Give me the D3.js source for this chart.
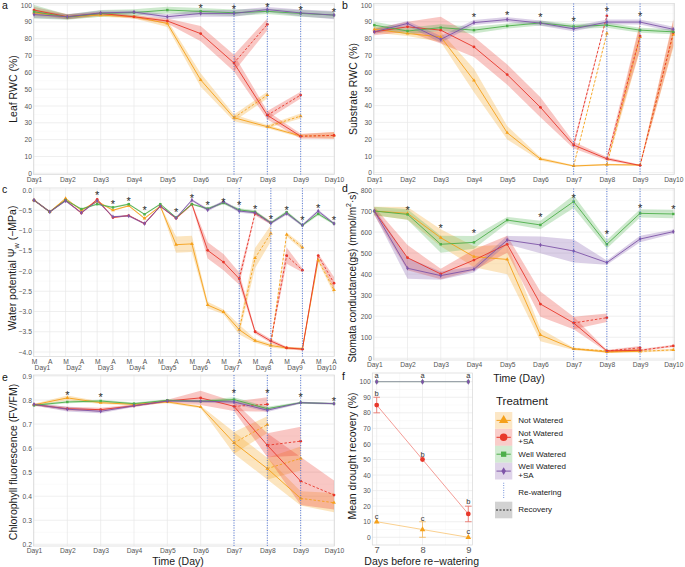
<!DOCTYPE html>
<html><head><meta charset="utf-8">
<script src="https://cdn.jsdelivr.net/npm/d3@7"></script>
<style>body{margin:0;background:#fff}svg{display:block}</style>
</head><body><svg id="c" width="685" height="567"></svg>
<script>
// ---------------- DATA ----------------
const days = ["Day1","Day2","Day3","Day4","Day5","Day6","Day7","Day8","Day9","Day10"];
const halfDayLabels = ["M","A"];
const treatmentLabels = [["Not Watered"],["Not Watered","+SA"],["Well Watered"],["Well Watered","+SA"]];
const extraLegend = ["Re-watering","Recovery"];

// Panel a: Leaf RWC (%)
const aNW   = [95.4, 93, 94, 93, 89, 55.5, 33, 27.7, 22.2];
const aNWse = [2, 1.5, 1, 1, 2, 4, 2, 1, 1];
const aNWSA   = [97, 93, 95, 93, 90.5, 83, 65.5, 34.5, 22];
const aNWSAse = [2, 1.5, 1, 1, 1.5, 4.5, 5, 2.5, 1.5];
const aWW   = [96, 92.8, 95, 95.5, 97, 96.2, 95.4, 96.2, 95, 94];
const aWWse = [4, 1.5, 2, 2, 2, 2, 2, 1.5, 2, 2];
const aWWSA   = [94.3, 93, 95.3, 95.8, 93, 95, 95, 97.3, 95.3, 94];
const aWWSAse = [2, 1.5, 1.5, 1, 1.5, 2, 2, 1.5, 2, 2.5];
const aRecStart = [6, 7, 8];
const aNWrec = [[46.5],[34],[22.5]];    const aNWrecSe = [[2],[1.5],[2]];
const aNWSArec = [[88.5],[46.5],[22.5]]; const aNWSArecSe = [[3.5],[2],[2]];
const aStarIdx = [5,6,7,8,9];
const aStarVal = [99.6, 99, 100.2, 98.4, 97.2];

// Panel b: Substrate RWC (%)
const bNW   = [85.5, 83, 81, 55, 23.8, 8.2, 4, 4.8, 4.6];
const bNWse = [2, 1.5, 3, 7, 4, 1, 0.5, 0.5, 0.5];
const bNWSA   = [84, 87, 85, 75, 58.5, 39, 16.5, 8.3, 4.3];
const bNWSAse = [2, 3, 8, 6, 6, 6, 2, 1, 0.5];
const bWW   = [88, 84.5, 86.5, 85, 87.5, 89.3, 87.2, 88, 85, 84];
const bWWse = [2, 2, 2, 2, 1.5, 1.5, 1.5, 1.5, 1.5, 1.5];
const bWWSA   = [84, 89, 79.5, 89.5, 91.3, 89.2, 85.8, 89.8, 89.8, 85.5];
const bWWSAse = [1.5, 1.5, 2, 1.5, 1.5, 1.5, 1.5, 1.5, 1.5, 1.5];
const bRecStart = [6, 7, 8];
const bNWrec = [[83],[81],[82.5]];      const bNWrecSe = [[0.5],[8],[8]];
const bNWSArec = [[93.5],[81.5],[83.5]]; const bNWSArecSe = [[0.5],[8],[8]];
const bStarIdx = [3,4,5,6,7,8];
const bStarVal = [94.2, 95.4, 94, 91.8, 97.5, 94.4];

// Panel c: Water potential (M/A for each day, 20 positions)
const cWW   = [-0.25,-0.54,-0.25,-0.47,-0.35,-0.43,-0.35,-0.6,-0.35,-0.68,-0.35,-0.46,-0.32,-0.49,-0.54,-0.81,-0.55,-0.87,-0.59,-0.83];
const cWWse = [0.02,0.02,0.02,0.02,0.02,0.02,0.02,0.02,0.02,0.02,0.02,0.03,0.03,0.04,0.04,0.03,0.04,0.03,0.04,0.03];
const cWWSA   = [-0.25,-0.54,-0.27,-0.56,-0.27,-0.66,-0.64,-0.83,-0.4,-0.69,-0.25,-0.49,-0.29,-0.52,-0.56,-0.82,-0.58,-0.87,-0.52,-0.83];
const cWWSAse = [0.02,0.02,0.02,0.02,0.02,0.02,0.02,0.02,0.02,0.02,0.03,0.04,0.03,0.04,0.04,0.03,0.04,0.03,0.04,0.03];
const cNW   = [-0.25,-0.54,-0.21,-0.5,-0.28,-0.5,-0.39,-0.7,-0.4,-1.35,-1.33,-2.84,-3.01,-3.45,-3.72,-3.84,-3.9,-3.92,-1.73];
const cNWse = [0.02,0.02,0.02,0.02,0.02,0.02,0.02,0.02,0.02,0.2,0.2,0.08,0.06,0.12,0.05,0.05,0.03,0.03,0.05];
const cNWSA   = [-0.25,-0.54,-0.25,-0.57,-0.23,-0.68,-0.63,-0.83,-0.4,-0.7,-0.35,-1.49,-1.78,-2.19,-3.5,-3.73,-3.9,-3.93,-1.62];
const cNWSAse = [0.02,0.02,0.02,0.02,0.02,0.02,0.02,0.02,0.02,0.02,0.03,0.2,0.2,0.15,0.05,0.05,0.03,0.03,0.05];
const cRecStart = [13, 15, 18];
const cNWrec = [[-1.68,-1.07],[-1.1,-1.42],[-2.47]];  const cNWrecSe = [[0.25,0.2],[0.05,0.07],[0.1]];
const cNWSArec = [[-0.58,-0.81],[-1.62,-1.98],[-2.3]]; const cNWSArecSe = [[0.05,0.04],[0.2,0.05],[0.15]];
const cStarIdx = [4,5,6,7,9,10,11,12,13,14,15,16,17,18,19];
const cStarVal = [-0.08,-0.29,-0.21,-0.44,-0.5,-0.14,-0.31,-0.25,-0.32,-0.41,-0.66,-0.44,-0.7,-0.39,-0.68];

// Panel d: Stomata conductance
const dNW   = [700, 689, 573, 483, 470, 111, 45, 30, 33];
const dNWse = [20, 30, 40, 50, 70, 30, 5, 5, 5];
const dNWSA   = [700, 478, 401, 467, 542, 258, 168, 35, 38];
const dNWSAse = [20, 60, 25, 50, 40, 60, 30, 5, 5];
const dWW   = [700, 684, 542, 551, 657, 634, 745, 542, 689, 686];
const dWWse = [20, 25, 40, 30, 15, 20, 30, 20, 20, 20];
const dWWSA   = [700, 428, 393, 423, 562, 539, 510, 455, 567, 602];
const dWWSAse = [15, 50, 20, 15, 20, 40, 55, 10, 15, 10];
const dRecStart = [6, 7, 8];
const dNWrec = [[35],[40],[40]];     const dNWrecSe = [[3],[5],[5]];
const dNWSArec = [[193],[50],[59]];  const dNWSArecSe = [[20],[8],[5]];
const dStarIdx = [1,2,3,5,6,7,8,9];
const dStarVal = [716, 629, 605, 681, 771, 599, 725, 721];

// Panel e: Chlorophyll fluorescence
const eNW   = [0.78, 0.809, 0.789, 0.782, 0.792, 0.771, 0.622, 0.515, 0.391];
const eNWse = [0.005, 0.01, 0.005, 0.005, 0.005, 0.005, 0.045, 0.045, 0.03];
const eNWSA   = [0.781, 0.764, 0.76, 0.776, 0.796, 0.809, 0.774, 0.612, 0.463];
const eNWSAse = [0.005, 0.008, 0.008, 0.005, 0.005, 0.03, 0.02, 0.05, 0.1];
const eWW   = [0.778, 0.792, 0.796, 0.785, 0.799, 0.795, 0.802, 0.764, 0.789, 0.785];
const eWWse = [0.005, 0.005, 0.005, 0.005, 0.004, 0.005, 0.01, 0.008, 0.004, 0.004];
const eWWSA   = [0.782, 0.762, 0.753, 0.776, 0.796, 0.795, 0.792, 0.758, 0.789, 0.785];
const eWWSAse = [0.005, 0.01, 0.008, 0.005, 0.004, 0.005, 0.008, 0.008, 0.004, 0.004];
const eRecStart = [6, 7, 8];
const eNWrec = [[0.698],[0.557],[0.373]];   const eNWrecSe = [[0.035],[0.05],[0.04]];
const eNWSArec = [[0.782],[0.629],[0.405]]; const eNWSArecSe = [[0.03],[0.06],[0.06]];
const eStarIdx = [1,2,6,7,8,9];
const eStarVal = [0.831, 0.823, 0.836, 0.836, 0.82, 0.806];

// Panel f: Mean drought recovery
const fDays = [7, 8, 9];
const fNW = [10, 5, 0];       const fNWerr = [0, 5, 0];
const fNWSA = [85, 50, 15];   const fNWSAerr = [5, 0, 5];
const fWW = [100, 100, 100];  const fWWSA = [100, 100, 100];
const fLetterA = [104, 104, 104];
const fLetterB = [92.5, 53.5, 22.9];
const fLetterC = [13.3, 12.2, 4];

// ---------------- STYLE ----------------
const FONT = "'Liberation Sans', Arial, Helvetica, sans-serif";
const colNW = "#F5A01A", colNWSA = "#E8372A", colWW = "#4DAF4A", colWWSA = "#7E55A8";
const colRewater = "#4a6fd8";
const TICK_FS = 6.7;
const gridMajor = "#e8e8e8", gridMinor = "#f4f4f4";
const svg = d3.select("#c").attr("font-family", FONT);
const symbolTypes = {tri: d3.symbolTriangle, cir: d3.symbolCircle, sq: d3.symbolSquare, dia: d3.symbolDiamond};
const sym = (shape, size) => d3.symbol().type(symbolTypes[shape]).size(size)();

function yAxis(g, y, L, ticks, fmt) {
  const a = g.append("g").attr("transform", `translate(${L},0)`)
    .call(d3.axisLeft(y).tickValues(ticks).tickFormat(fmt).tickSize(0).tickPadding(1.6));
  a.select(".domain").remove();
  a.attr("font-family", FONT).attr("font-size", TICK_FS);
  a.selectAll("text").attr("fill", "#555");
}
function xAxis(g, x, baseline, ticks, fmt, fs) {
  fs = fs || TICK_FS;
  const a = g.append("g").attr("transform", `translate(0,${baseline - 0.71 * fs})`)
    .call(d3.axisBottom(x).tickValues(ticks).tickFormat(fmt).tickSize(0).tickPadding(0));
  a.select(".domain").remove();
  a.attr("font-family", FONT).attr("font-size", fs);
  a.selectAll("text").attr("fill", "#555");
}
function yTitle(x, y, parts, fs) {
  const t = svg.append("text").attr("transform", `translate(${x},${y}) rotate(-90)`)
    .attr("text-anchor", "middle").attr("dominant-baseline", "central")
    .attr("font-size", fs || 10.5).attr("fill", "#1a1a1a");
  parts.forEach(p => {
    const ts = t.append("tspan").text(p.t);
    if (p.sub) ts.attr("baseline-shift", "sub").attr("font-size", (fs || 10.5) * 0.7);
    if (p.sup) ts.attr("baseline-shift", "super").attr("font-size", (fs || 10.5) * 0.7);
  });
}
function xTitle(x, y, text) {
  svg.append("text").attr("x", x).attr("y", y).attr("text-anchor", "middle")
    .attr("dominant-baseline", "central").attr("font-size", 10.5).attr("fill", "#1a1a1a").text(text);
}
function panelLetter(x, y, t) {
  svg.append("text").attr("x", x).attr("y", y).attr("font-size", 10.5).attr("fill", "#111").text(t);
}

function drawPanel(o) {
  const g = svg.append("g");
  const [L, R, T, B] = o.rect;
  const x = d3.scaleLinear().domain([0, o.n - 1]).range(o.xr);
  const y = d3.scaleLinear().domain(o.ydom).range(o.yr);
  g.append("rect").attr("x", L).attr("y", T).attr("width", R - L).attr("height", B - T).attr("fill", "#fff");
  g.selectAll(null).data(o.yminor).join("line")
    .attr("x1", L).attr("x2", R).attr("y1", d => y(d)).attr("y2", d => y(d))
    .attr("stroke", gridMinor).attr("stroke-width", 0.5);
  g.selectAll(null).data(o.yticks).join("line")
    .attr("x1", L).attr("x2", R).attr("y1", d => y(d)).attr("y2", d => y(d))
    .attr("stroke", gridMajor).attr("stroke-width", 0.7);
  g.selectAll(null).data(d3.range(o.n)).join("line")
    .attr("x1", d => x(d)).attr("x2", d => x(d)).attr("y1", T).attr("y2", B)
    .attr("stroke", gridMajor).attr("stroke-width", 0.7);
  g.append("rect").attr("x", L).attr("y", T).attr("width", R - L).attr("height", B - T)
    .attr("fill", "none").attr("stroke", "#d8d8d8").attr("stroke-width", 0.7);

  const area = d3.area().x(d => x(d.i)).y0(d => y(d.v - d.s)).y1(d => y(d.v + d.s));
  const line = d3.line().x(d => x(d.i)).y(d => y(d.v));
  const prep = o.series.map(s => {
    const main = s.vals.map((v, i) => ({i, v, s: s.se[i]}));
    const recs = (s.recStart || []).map((st, k) =>
      [{i: st, v: s.vals[st], s: s.se[st]}].concat(
        s.rec[k].map((v, j) => ({i: st + 1 + j, v, s: s.recSe[k][j]}))));
    return {s, main, recs};
  });
  prep.forEach(p => {
    g.append("path").attr("d", area(p.main)).attr("fill", p.s.color).attr("opacity", 0.28);
    p.recs.forEach(r => g.append("path").attr("d", area(r)).attr("fill", p.s.color).attr("opacity", 0.28));
  });
  prep.forEach(p => {
    g.append("path").attr("d", line(p.main)).attr("fill", "none").attr("stroke", p.s.color).attr("stroke-width", 0.9);
    p.recs.forEach(r => g.append("path").attr("d", line(r)).attr("fill", "none")
      .attr("stroke", p.s.color).attr("stroke-width", 0.9).attr("stroke-dasharray", "2.5,1.8"));
  });
  prep.forEach(p => {
    const pts = p.main.concat(...p.recs.map(r => r.slice(1)));
    g.selectAll(null).data(pts).join("path")
      .attr("transform", d => `translate(${x(d.i)},${y(d.v)})`)
      .attr("d", sym(p.s.shape, 6)).attr("fill", p.s.color);
  });
  g.selectAll(null).data(o.rewater).join("line")
    .attr("x1", d => x(d)).attr("x2", d => x(d)).attr("y1", T).attr("y2", B)
    .attr("stroke", colRewater).attr("stroke-width", 0.9).attr("stroke-dasharray", "1,1.5");
  g.selectAll(null).data(o.starIdx).join("text")
    .attr("x", d => x(d)).attr("y", (d, k) => y(o.starVal[k]) + 6)
    .attr("text-anchor", "middle").attr("font-size", 11).attr("fill", "#2a2a2a").text("*");
  yAxis(g, y, L, o.yticks, o.fmt);
  return {g, x, y};
}

function mkSeries(nw, nwse, nwsa, nwsase, ww, wwse, wwsa, wwsase, recStart, nwrec, nwrecSe, nwsarec, nwsarecSe) {
  return [
    {vals: nw, se: nwse, color: colNW, shape: "tri", recStart, rec: nwrec, recSe: nwrecSe},
    {vals: nwsa, se: nwsase, color: colNWSA, shape: "cir", recStart, rec: nwsarec, recSe: nwsarecSe},
    {vals: ww, se: wwse, color: colWW, shape: "sq"},
    {vals: wwsa, se: wwsase, color: colWWSA, shape: "dia"}
  ];
}
const fmtInt = d3.format("d"), fmt1 = d3.format(".1f");

// Panel a
const pa = drawPanel({rect: [33.5, 334.5, 3.5, 174.5], xr: [34, 334], n: 10, ydom: [0, 100], yr: [173.3, 5],
  yticks: d3.range(0, 101, 10), yminor: d3.range(5, 100, 10), fmt: fmtInt, rewater: [6, 7, 8],
  series: mkSeries(aNW, aNWse, aNWSA, aNWSAse, aWW, aWWse, aWWSA, aWWSAse, aRecStart, aNWrec, aNWrecSe, aNWSArec, aNWSArecSe),
  starIdx: aStarIdx, starVal: aStarVal});
xAxis(pa.g, pa.x, 182.3, d3.range(10), i => days[i]);

// Panel b
const pb = drawPanel({rect: [373.5, 674.5, 3.5, 174.5], xr: [374.3, 673.3], n: 10, ydom: [0, 100], yr: [172.7, 5],
  yticks: d3.range(0, 101, 10), yminor: d3.range(5, 100, 10), fmt: fmtInt, rewater: [6, 7, 8],
  series: mkSeries(bNW, bNWse, bNWSA, bNWSAse, bWW, bWWse, bWWSA, bWWSAse, bRecStart, bNWrec, bNWrecSe, bNWSArec, bNWSArecSe),
  starIdx: bStarIdx, starVal: bStarVal});
xAxis(pb.g, pb.x, 181.8, d3.range(10), i => days[i]);

// Panel c
const pc = drawPanel({rect: [33.5, 334.5, 188, 356.5], xr: [34, 334], n: 20, ydom: [-4, 0], yr: [352, 190],
  yticks: d3.range(-4, 0.01, 0.5), yminor: d3.range(-3.75, 0, 0.5), fmt: fmt1, rewater: [13, 15, 17],
  series: mkSeries(cNW, cNWse, cNWSA, cNWSAse, cWW, cWWse, cWWSA, cWWSAse, cRecStart, cNWrec, cNWrecSe, cNWSArec, cNWSArecSe),
  starIdx: cStarIdx, starVal: cStarVal});
xAxis(pc.g, pc.x, 364, d3.range(20), i => halfDayLabels[i % 2]);
xAxis(pc.g, pc.x, 370.2, d3.range(10).map(k => 2 * k + 0.5), v => days[Math.floor(v / 2)]);

// Panel d
const pd = drawPanel({rect: [373.5, 674.5, 188.5, 360], xr: [374.3, 673.3], n: 10, ydom: [0, 800], yr: [358.3, 190],
  yticks: d3.range(0, 801, 100), yminor: d3.range(50, 800, 100), fmt: fmtInt, rewater: [6, 7, 8],
  series: mkSeries(dNW, dNWse, dNWSA, dNWSAse, dWW, dWWse, dWWSA, dWWSAse, dRecStart, dNWrec, dNWrecSe, dNWSArec, dNWSArecSe),
  starIdx: dStarIdx, starVal: dStarVal});
xAxis(pd.g, pd.x, 366.5, d3.range(10), i => days[i]);

// Panel e
const pe = drawPanel({rect: [33.5, 334.5, 375, 546], xr: [34, 334], n: 10, ydom: [0.2, 0.9], yr: [544.3, 376],
  yticks: d3.range(0.2, 0.91, 0.1), yminor: d3.range(0.25, 0.9, 0.1), fmt: fmt1, rewater: [6, 7, 8],
  series: mkSeries(eNW, eNWse, eNWSA, eNWSAse, eWW, eWWse, eWWSA, eWWSAse, eRecStart, eNWrec, eNWrecSe, eNWSArec, eNWSArecSe),
  starIdx: eStarIdx, starVal: eStarVal});
xAxis(pe.g, pe.x, 552.8, d3.range(10), i => days[i]);

// Panel f
(function () {
  const g = svg.append("g");
  const L = 372.3, R = 472.5, T = 373, B = 545;
  const x = d3.scaleLinear().domain([7, 9]).range([376.7, 468.3]);
  const y = d3.scaleLinear().domain([0, 100]).range([537.3, 381.7]);
  g.append("rect").attr("x", L).attr("y", T).attr("width", R - L).attr("height", B - T).attr("fill", "#fff");
  g.selectAll(null).data(d3.range(5, 100, 10)).join("line").attr("x1", L).attr("x2", R)
    .attr("y1", d => y(d)).attr("y2", d => y(d)).attr("stroke", gridMinor).attr("stroke-width", 0.5);
  g.selectAll(null).data([7.5, 8.5]).join("line").attr("y1", T).attr("y2", B)
    .attr("x1", d => x(d)).attr("x2", d => x(d)).attr("stroke", gridMinor).attr("stroke-width", 0.5);
  g.selectAll(null).data(d3.range(0, 101, 10)).join("line").attr("x1", L).attr("x2", R)
    .attr("y1", d => y(d)).attr("y2", d => y(d)).attr("stroke", gridMajor).attr("stroke-width", 0.7);
  g.selectAll(null).data(fDays).join("line").attr("y1", T).attr("y2", B)
    .attr("x1", d => x(d)).attr("x2", d => x(d)).attr("stroke", gridMajor).attr("stroke-width", 0.7);
  g.append("rect").attr("x", L).attr("y", T).attr("width", R - L).attr("height", B - T)
    .attr("fill", "none").attr("stroke", "#d8d8d8").attr("stroke-width", 0.7);
  const line = d3.line().x((d, i) => x(fDays[i])).y(d => y(d));
  const fs = [
    {v: fNW, err: fNWerr, color: colNW, shape: "tri", size: 14},
    {v: fNWSA, err: fNWSAerr, color: colNWSA, shape: "cir", size: 18},
    {v: fWW, err: null, color: colWW, shape: "sq", size: 10},
    {v: fWWSA, err: null, color: colWWSA, shape: "dia", size: 10}
  ];
  fs.forEach(s => g.append("path").attr("d", line(s.v)).attr("fill", "none").attr("stroke", s.color)
    .attr("stroke-width", 0.9).attr("opacity", 0.55));
  fs.forEach(s => {
    if (!s.err) return;
    s.v.forEach((v, i) => {
      const e = s.err[i]; if (!e) return;
      const cx = x(fDays[i]);
      const eg = g.append("g").attr("stroke", s.color).attr("stroke-width", 0.8).attr("opacity", 0.7);
      eg.append("line").attr("x1", cx).attr("x2", cx).attr("y1", y(v - e)).attr("y2", y(v + e));
      eg.append("line").attr("x1", cx - 3.3).attr("x2", cx + 3.3).attr("y1", y(v - e)).attr("y2", y(v - e));
      eg.append("line").attr("x1", cx - 3.3).attr("x2", cx + 3.3).attr("y1", y(v + e)).attr("y2", y(v + e));
    });
  });
  fs.forEach(s => g.selectAll(null).data(s.v).join("path")
    .attr("transform", (d, i) => `translate(${x(fDays[i])},${y(d)})`).attr("d", sym(s.shape, s.size))
    .attr("fill", s.color).attr("opacity", s.shape === "sq" ? 0.6 : 1));
  [["a", fLetterA], ["b", fLetterB], ["c", fLetterC]].forEach(([t, arr]) =>
    g.selectAll(null).data(arr).join("text").attr("x", (d, i) => x(fDays[i])).attr("y", d => y(d))
      .attr("text-anchor", "middle").attr("dominant-baseline", "central")
      .attr("font-size", 7.5).attr("fill", "#333").text(t));
  yAxis(g, y, L, d3.range(0, 101, 10), fmtInt);
  xAxis(g, x, 553.3, fDays, fmtInt, 9.3);
})();

// Titles
yTitle(12.7, 89, [{t: "Leaf RWC (%)"}]);
yTitle(353.3, 89, [{t: "Substrate RWC (%)"}]);
yTitle(11.8, 268, [{t: "Water potential Ψ"}, {t: "w", sub: true}, {t: " (−MPa)"}]);
yTitle(352, 277, [{t: "Stomata conductance(gs) (mmol/m"}, {t: "2", sup: true}, {t: "·s)"}], 10);
yTitle(13, 462, [{t: "Chlorophyll fluorescence (FV/FM)"}]);
yTitle(352, 456, [{t: "Mean drought recovery (%)"}]);
xTitle(519, 377.5, "Time (Day)");
xTitle(178, 560.5, "Time (Day)");
xTitle(421.7, 560.7, "Days before re−watering");
panelLetter(2, 9, "a"); panelLetter(342, 9, "b");
panelLetter(2, 193, "c"); panelLetter(342, 192, "d");
panelLetter(2, 381, "e"); panelLetter(342, 380, "f");

// Legend
(function () {
  const g = svg.append("g");
  g.append("text").attr("x", 496).attr("y", 404.8).attr("font-size", 11.5).attr("fill", "#1a1a1a").text("Treatment");
  const items = [
    {color: colNW, shape: "tri", size: 38},
    {color: colNWSA, shape: "cir", size: 44},
    {color: colWW, shape: "sq", size: 28},
    {color: colWWSA, shape: "dia", size: 18}
  ];
  const kx = 495, kw = 17.3, kh = 16.8, ky0 = 412;
  items.forEach((it, k) => {
    const top = ky0 + k * 16.9, cy = top + kh / 2;
    g.append("rect").attr("x", kx).attr("y", top).attr("width", kw).attr("height", kh)
      .attr("fill", it.color).attr("opacity", 0.25);
    g.append("line").attr("x1", kx + 1.5).attr("x2", kx + kw - 1.5).attr("y1", cy).attr("y2", cy)
      .attr("stroke", it.color).attr("stroke-width", 1);
    g.append("path").attr("transform", `translate(${kx + kw / 2},${cy})`).attr("d", sym(it.shape, it.size)).attr("fill", it.color);
    const lab = treatmentLabels[k];
    lab.forEach((t, j) => g.append("text").attr("x", 518.3)
      .attr("y", cy + (lab.length === 1 ? 0 : (j === 0 ? -4.2 : 4.2)))
      .attr("dominant-baseline", "central").attr("font-size", 8).attr("fill", "#1a1a1a").text(t));
  });
  g.append("line").attr("x1", kx + kw / 2).attr("x2", kx + kw / 2).attr("y1", 482.7).attr("y2", 499.3)
    .attr("stroke", "#8ea6e0").attr("stroke-width", 1.2).attr("stroke-dasharray", "1,1.4");
  g.append("text").attr("x", 518.3).attr("y", 492).attr("dominant-baseline", "central")
    .attr("font-size", 8).attr("fill", "#1a1a1a").text(extraLegend[0]);
  g.append("rect").attr("x", kx).attr("y", 501.7).attr("width", kw).attr("height", 16.6).attr("fill", "#d2d2d2");
  g.append("line").attr("x1", kx + 1).attr("x2", kx + kw - 1).attr("y1", 510).attr("y2", 510)
    .attr("stroke", "#222").attr("stroke-width", 1.2).attr("stroke-dasharray", "2,1.5");
  g.append("text").attr("x", 518.3).attr("y", 509.2).attr("dominant-baseline", "central")
    .attr("font-size", 8).attr("fill", "#1a1a1a").text(extraLegend[1]);
})();
</script></body></html>
